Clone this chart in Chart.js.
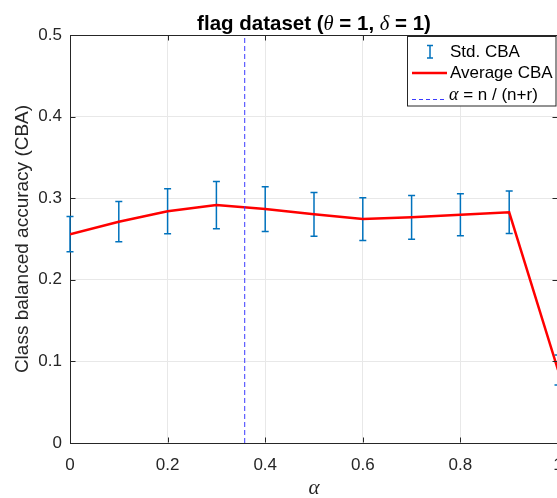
<!DOCTYPE html>
<html>
<head>
<meta charset="utf-8">
<script src="https://cdn.jsdelivr.net/npm/chart.js@4/dist/chart.umd.min.js"></script>
<style>
  html, body { margin: 0; padding: 0; overflow: hidden; background: #ffffff; }
  #wrap { position: relative; width: 600px; height: 498px; }
</style>
</head>
<body>
<div id="wrap"><canvas id="c" width="600" height="498"></canvas></div>
<script>
// Mixing parameter alpha and the class balanced accuracy measured at each value
const alphaValues = [0, 0.1, 0.2, 0.3, 0.4, 0.5, 0.6, 0.7, 0.8, 0.9, 1.0];
const meanCBA = [0.2559, 0.2712, 0.2841, 0.2916, 0.2867, 0.2803, 0.2744, 0.2766, 0.2798, 0.2827, 0.0895];
const stdCBA  = [0.0216, 0.0247, 0.0276, 0.0290, 0.0274, 0.0268, 0.0262, 0.0268, 0.0258, 0.0260, 0.0184];
// alpha = n / (n + r)
const alphaRatio = 0.358;

const xTicks = [0, 0.2, 0.4, 0.6, 0.8, 1];
const yTicks = [0, 0.1, 0.2, 0.3, 0.4, 0.5];

const AXIS_COLOR = '#262626';
const ERR_COLOR = '#0072BD';
const DASH_COLOR = '#3a3aff';
const SANS = '"Liberation Sans", Arial, sans-serif';
const SERIF = '"Liberation Serif", "Times New Roman", serif';

// draw a run of differently styled pieces as one line of text
function drawRuns(ctx, runs, x, y, align) {
  let total = 0;
  runs.forEach(r => { ctx.font = r.font; r.w = ctx.measureText(r.text).width; total += r.w; });
  let cx = align === 'center' ? x - total / 2 : x;
  ctx.textAlign = 'left';
  runs.forEach(r => { ctx.font = r.font; ctx.fillText(r.text, cx, y); cx += r.w; });
}

const errorBars = {
  id: 'errorBars',
  beforeDatasetsDraw(chart) {
    const { ctx, scales: { x, y } } = chart;
    ctx.save();
    ctx.strokeStyle = ERR_COLOR;
    ctx.lineWidth = 1.5;
    const cap = 3.5;
    alphaValues.forEach((a, i) => {
      const px = x.getPixelForValue(a);
      const top = y.getPixelForValue(meanCBA[i] + stdCBA[i]);
      const bot = y.getPixelForValue(meanCBA[i] - stdCBA[i]);
      ctx.beginPath();
      ctx.moveTo(px, top); ctx.lineTo(px, bot);
      ctx.moveTo(px - cap, top); ctx.lineTo(px + cap, top);
      ctx.moveTo(px - cap, bot); ctx.lineTo(px + cap, bot);
      ctx.stroke();
    });
    ctx.restore();
  }
};

const frame = {
  id: 'frame',
  afterDraw(chart) {
    const { ctx, chartArea: a, scales: { x, y } } = chart;
    ctx.save();
    ctx.strokeStyle = AXIS_COLOR;
    ctx.lineWidth = 1;
    const L = Math.round(a.left) + 0.5, R = Math.round(a.right) - 0.5;
    const T = Math.round(a.top) + 0.5, B = Math.round(a.bottom) - 0.5;
    ctx.beginPath();
    ctx.moveTo(L, T); ctx.lineTo(R, T); ctx.lineTo(R, B);
    const tl = 5;
    xTicks.forEach(v => {
      const px = Math.round(x.getPixelForValue(v)) + 0.5;
      ctx.moveTo(px, B); ctx.lineTo(px, B - tl);
      ctx.moveTo(px, T); ctx.lineTo(px, T + tl);
    });
    yTicks.forEach(v => {
      const py = Math.round(y.getPixelForValue(v)) + 0.5;
      ctx.moveTo(L, py); ctx.lineTo(L + tl, py);
      ctx.moveTo(R, py); ctx.lineTo(R - tl, py);
    });
    ctx.stroke();

    // title
    ctx.fillStyle = '#000000';
    ctx.textBaseline = 'alphabetic';
    const midX = (a.left + a.right) / 2;
    const bold = 'bold 20.5px ' + SANS, it = 'italic 20.5px ' + SERIF;
    drawRuns(ctx, [
      { text: 'flag dataset (', font: bold },
      { text: '\u03B8', font: it },
      { text: ' = 1, ', font: bold },
      { text: '\u03B4', font: it },
      { text: ' = 1)', font: bold }
    ], midX, 30, 'center');

    // axis titles
    ctx.fillStyle = AXIS_COLOR;
    ctx.textBaseline = 'middle';
    ctx.font = 'italic 21px ' + SERIF;
    ctx.textAlign = 'center';
    ctx.fillText('\u03B1', midX, 488);
    ctx.save();
    ctx.translate(23, (a.top + a.bottom) / 2);
    ctx.rotate(-Math.PI / 2);
    ctx.font = '19px ' + SANS;
    ctx.textAlign = 'center';
    ctx.fillText('Class balanced accuracy (CBA)', 0, 0);
    ctx.restore();

    // legend
    const bx = 407.5, by = 36.5, bw = 148.5, bh = 69.5;
    ctx.fillStyle = '#ffffff';
    ctx.fillRect(bx, by, bw, bh);
    ctx.strokeStyle = AXIS_COLOR;
    ctx.lineWidth = 1;
    ctx.strokeRect(bx, by, bw, bh);
    const rows = [52, 73, 95];
    const tx = 450;
    // error bar symbol
    ctx.strokeStyle = ERR_COLOR;
    ctx.lineWidth = 1.5;
    ctx.beginPath();
    ctx.moveTo(430, 45.5); ctx.lineTo(430, 58);
    ctx.moveTo(427, 45.5); ctx.lineTo(433, 45.5);
    ctx.moveTo(427, 58); ctx.lineTo(433, 58);
    ctx.stroke();
    // red line symbol
    ctx.strokeStyle = '#ff0000';
    ctx.lineWidth = 2.5;
    ctx.beginPath(); ctx.moveTo(412, rows[1]); ctx.lineTo(447, rows[1]); ctx.stroke();
    // dashed symbol
    ctx.strokeStyle = DASH_COLOR;
    ctx.lineWidth = 1;
    ctx.setLineDash([4, 3]);
    ctx.beginPath(); ctx.moveTo(412, rows[2] + 4.5); ctx.lineTo(447, rows[2] + 4.5); ctx.stroke();
    ctx.setLineDash([]);
    ctx.fillStyle = '#000000';
    ctx.textBaseline = 'middle';
    const lf = '17px ' + SANS;
    ctx.font = lf; ctx.textAlign = 'left';
    ctx.fillText('Std. CBA', tx, rows[0]);
    ctx.fillText('Average CBA', tx, rows[1]);
    drawRuns(ctx, [
      { text: '\u03B1', font: 'italic 18px ' + SERIF },
      { text: ' = n / (n+r)', font: lf }
    ], tx - 1, rows[2], 'left');
    ctx.restore();
  }
};

new Chart(document.getElementById('c'), {
  type: 'line',
  data: {
    datasets: [
      {
        label: '\u03B1 = n / (n+r)',
        data: [{ x: alphaRatio, y: yTicks[0] }, { x: alphaRatio, y: yTicks[yTicks.length - 1] }],
        borderColor: DASH_COLOR,
        borderWidth: 1,
        borderDash: [5, 3],
        pointRadius: 0,
        order: 0
      },
      {
        label: 'Average CBA',
        data: alphaValues.map((a, i) => ({ x: a, y: meanCBA[i] })),
        borderColor: '#ff0000',
        borderWidth: 2.5,
        pointRadius: 0,
        tension: 0,
        order: 1
      }
    ]
  },
  options: {
    responsive: false,
    animation: false,
    devicePixelRatio: 1,
    layout: { padding: { top: 35, right: 42, left: 0, bottom: 0 } },
    plugins: { legend: { display: false }, tooltip: { enabled: false }, title: { display: false } },
    scales: {
      x: {
        type: 'linear',
        min: xTicks[0], max: xTicks[xTicks.length - 1],
        afterBuildTicks(s) { s.ticks = xTicks.map(v => ({ value: v })); },
        afterFit(s) { s.height = 55; },
        grid: { color: '#e8e8e8', drawTicks: false },
        border: { color: AXIS_COLOR, width: 1 },
        ticks: {
          padding: 12, color: AXIS_COLOR, maxRotation: 0,
          font: { family: SANS, size: 17 },
          callback: v => String(+v.toFixed(2))
        }
      },
      y: {
        type: 'linear',
        min: yTicks[0], max: yTicks[yTicks.length - 1],
        afterBuildTicks(s) { s.ticks = yTicks.map(v => ({ value: v })); },
        afterFit(s) { s.width = 70; },
        grid: { color: '#e8e8e8', drawTicks: false },
        border: { color: AXIS_COLOR, width: 1 },
        ticks: {
          padding: 8, color: AXIS_COLOR,
          font: { family: SANS, size: 17 },
          callback: v => String(+v.toFixed(2))
        }
      }
    }
  },
  plugins: [errorBars, frame]
});
</script>
</body>
</html>
